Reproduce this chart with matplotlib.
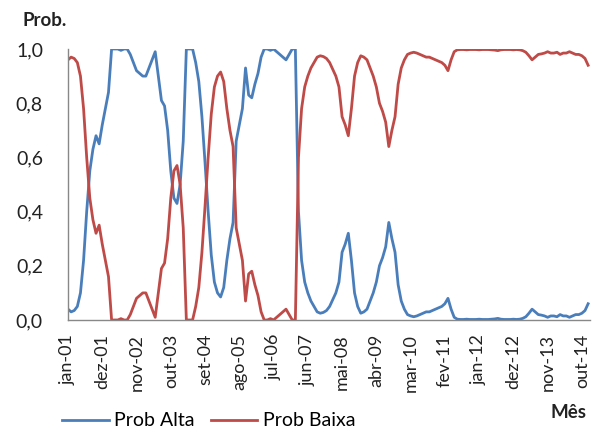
import matplotlib
matplotlib.use("Agg")
import matplotlib.pyplot as plt
from matplotlib.ticker import FuncFormatter

plt.rcParams['font.family'] = ['Lato', 'DejaVu Sans']

# probabilidades mensais jan-01 .. dez-14
prob_alta = [
    0.04, 0.03, 0.035, 0.05, 0.10, 0.22, 0.40, 0.55, 0.63, 0.68,
    0.65, 0.72, 0.78, 0.84, 1.00, 1.00, 1.00, 0.995, 1.00, 1.00,
    0.98, 0.95, 0.92, 0.91, 0.90, 0.90, 0.93, 0.96, 0.99, 0.90,
    0.81, 0.79, 0.70, 0.55, 0.45, 0.43, 0.50, 0.66, 1.00, 1.00,
    1.00, 0.95, 0.88, 0.75, 0.58, 0.40, 0.24, 0.14, 0.10, 0.085,
    0.12, 0.22, 0.30, 0.36, 0.66, 0.72, 0.78, 0.93, 0.83, 0.82,
    0.87, 0.91, 0.97, 1.00, 1.00, 0.995, 1.00, 0.99, 0.98, 0.97,
    0.96, 0.98, 1.00, 1.00, 0.40, 0.22, 0.14, 0.10, 0.07, 0.05,
    0.03, 0.025, 0.028, 0.035, 0.05, 0.075, 0.10, 0.14, 0.25, 0.28,
    0.32, 0.22, 0.10, 0.05, 0.025, 0.03, 0.04, 0.07, 0.10, 0.14,
    0.20, 0.23, 0.27, 0.36, 0.30, 0.25, 0.13, 0.07, 0.04, 0.02,
    0.015, 0.012, 0.015, 0.02, 0.025, 0.03, 0.03, 0.035, 0.04, 0.045,
    0.05, 0.06, 0.08, 0.04, 0.01, 0.003, 0.002, 0.002, 0.003, 0.002,
    0.002, 0.002, 0.003, 0.002, 0.002, 0.002, 0.003, 0.004, 0.006, 0.003,
    0.002, 0.002, 0.002, 0.003, 0.002, 0.003, 0.006, 0.012, 0.025, 0.04,
    0.03, 0.02, 0.018, 0.015, 0.01, 0.015, 0.015, 0.012, 0.02, 0.015,
    0.015, 0.01, 0.015, 0.02, 0.02, 0.025, 0.035, 0.06,
]
prob_baixa = [
    0.96, 0.97, 0.965, 0.95, 0.90, 0.78, 0.60, 0.45, 0.37, 0.32,
    0.35, 0.28, 0.22, 0.16, 0.00, 0.00, 0.00, 0.005, 0.00, 0.00,
    0.02, 0.05, 0.08, 0.09, 0.10, 0.10, 0.07, 0.04, 0.01, 0.10,
    0.19, 0.21, 0.30, 0.45, 0.55, 0.57, 0.50, 0.34, 0.00, 0.00,
    0.00, 0.05, 0.12, 0.25, 0.42, 0.60, 0.76, 0.86, 0.90, 0.915,
    0.88, 0.78, 0.70, 0.64, 0.34, 0.28, 0.22, 0.07, 0.17, 0.18,
    0.13, 0.09, 0.03, 0.00, 0.00, 0.005, 0.00, 0.01, 0.02, 0.03,
    0.04, 0.02, 0.00, 0.00, 0.60, 0.78, 0.86, 0.90, 0.93, 0.95,
    0.97, 0.975, 0.972, 0.965, 0.95, 0.925, 0.90, 0.86, 0.75, 0.72,
    0.68, 0.78, 0.90, 0.95, 0.975, 0.97, 0.96, 0.93, 0.90, 0.86,
    0.80, 0.77, 0.73, 0.64, 0.70, 0.75, 0.87, 0.93, 0.96, 0.98,
    0.985, 0.988, 0.985, 0.98, 0.975, 0.97, 0.97, 0.965, 0.96, 0.955,
    0.95, 0.94, 0.92, 0.96, 0.99, 0.997, 0.998, 0.998, 0.997, 0.998,
    0.998, 0.998, 0.997, 0.998, 0.998, 0.998, 0.997, 0.996, 0.994, 0.997,
    0.998, 0.998, 0.998, 0.997, 0.998, 0.997, 0.994, 0.988, 0.975, 0.96,
    0.97, 0.98, 0.982, 0.985, 0.99, 0.985, 0.985, 0.988, 0.98, 0.985,
    0.985, 0.99, 0.985, 0.98, 0.98, 0.975, 0.965, 0.94,
]
tick_labels = ["jan-01", "dez-01", "nov-02", "out-03", "set-04", "ago-05",
               "jul-06", "jun-07", "mai-08", "abr-09", "mar-10", "fev-11",
               "jan-12", "dez-12", "nov-13", "out-14"]

meses = list(range(len(prob_alta)))

fig = plt.figure(figsize=(5.92, 4.34), dpi=100)
ax = fig.add_axes([68/592, 1-320/434, 522/592, 271/434])

azul = "#4a7ebb"
vermelho = "#be4b48"
ax.plot(meses, prob_alta, color=azul, lw=2.0, label="Prob Alta")
ax.plot(meses, prob_baixa, color=vermelho, lw=2.0, label="Prob Baixa")

ax.set_xlim(0, 167.6)
ax.set_ylim(0, 1.0)
ax.set_yticks([0, 0.2, 0.4, 0.6, 0.8, 1.0])
ax.yaxis.set_major_formatter(FuncFormatter(lambda v, p: f"{v:.1f}".replace(".", ",")))
ax.set_xticks(range(0, 11*len(tick_labels), 11))
ax.set_xticklabels(tick_labels, rotation=90)
ax.tick_params(axis="y", length=0, pad=18, labelsize=14, colors="#222222")
ax.tick_params(axis="x", length=0, pad=10, labelsize=13, colors="#222222")

for s in ["top", "right"]:
    ax.spines[s].set_visible(False)
for s in ["left", "bottom"]:
    ax.spines[s].set_color("#888888")
    ax.spines[s].set_linewidth(1.0)

fig.text(22/592, 1-20/434, "Prob.", fontsize=13.5, fontweight="bold", va="center", color="#222222")
fig.text(550/592, 1-413/434, "Mês", fontsize=13.5, fontweight="bold", va="center", color="#222222")

fig.legend(loc="center left", bbox_to_anchor=(62/592, 1-421/434), ncol=2, frameon=False,
           fontsize=14, handlelength=2.4, handletextpad=0.3, columnspacing=0.8,
           borderaxespad=0, borderpad=0)

fig.savefig("out.png", dpi=100)
